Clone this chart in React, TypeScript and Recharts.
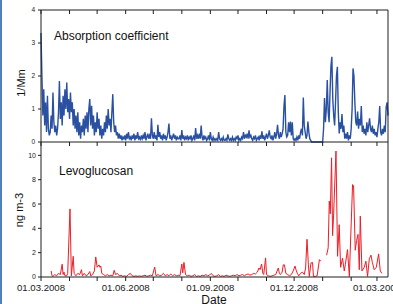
import React from "react";
import { LineChart, Line, XAxis, YAxis } from "recharts";

// Absorption coefficient (1/Mm), one value per day starting 01.03.2008 (day 0)
const absorption: number[] = [
  3.3, 2.0, 0.8, 1.6, 0.5, 1.2, 0.3, 1.4, 0.4, 0.2,
  0.3, 0.8, 0.4, 1.5, 0.6, 0.3, 0.5, 0.2, 0.4, 0.9,
  1.85, 0.7, 1.2, 0.5, 1.4, 0.8, 1.6, 1.0, 1.8, 0.9,
  1.3, 0.7, 1.5, 0.9, 1.2, 0.5, 1.0, 0.4, 0.8, 0.3,
  0.9, 0.2, 0.6, 0.1, 0.5, 0.3, 0.7, 0.2, 0.8, 0.4,
  0.9, 0.3, 1.0, 1.3, 0.5, 1.1, 0.4, 0.8, 0.2, 0.6,
  0.3, 0.9, 0.4, 0.7, 0.2, 0.5, 0.1, 0.4, 0.2, 0.6,
  0.3, 0.8, 0.4, 1.0, 0.5, 0.7, 0.3, 0.9, 1.45, 0.6,
  0.3, 0.5, 0.2, 0.3, 0.1, 0.25, 0.1, 0.2, 0.05, 0.15,
  0.1, 0.2, 0.05, 0.25, 0.1, 0.3, 0.1, 0.15, 0.05, 0.2,
  0.1, 0.25, 0.05, 0.2, 0.1, 0.3, 0.1, 0.15, 0.05, 0.2,
  0.1, 0.2, 0.1, 0.3, 0.05, 0.15, 0.25, 0.1, 0.2, 0.1,
  0.72, 0.2, 0.1, 0.3, 0.1, 0.2, 0.05, 0.52, 0.15, 0.3,
  0.1, 0.2, 0.05, 0.25, 0.1, 0.2, 0.05, 0.15, 0.3, 0.56,
  0.1, 0.2, 0.05, 0.15, 0.25, 0.1, 0.2, 0.05, 0.15, 0.1,
  0.1, 0.2, 0.05, 0.36, 0.1, 0.2, 0.05, 0.15, 0.1, 0.2,
  0.05, 0.15, 0.1, 0.2, 0.05, 0.1, 0.2, 0.05, 0.42, 0.1,
  0.2, 0.1, 0.25, 0.1, 0.5, 0.15, 0.05, 0.2, 0.1, 0.15,
  0.05, 0.1, 0.2, 0.05, 0.3, 0.1, 0.05, 0.15, 0.05, 0.1,
  0.05, 0.1, 0.05, 0.3, 0.1, 0.05, 0.1, 0.05, 0.15, 0.05,
  0.05, 0.1, 0.05, 0.23, 0.1, 0.05, 0.1, 0.05, 0.15, 0.05,
  0.1, 0.05, 0.15, 0.1, 0.2, 0.05, 0.1, 0.05, 0.15, 0.1,
  0.3, 0.1, 0.2, 0.15, 0.25, 0.1, 0.35, 0.15, 0.2, 0.1,
  0.05, 0.15, 0.1, 0.2, 0.05, 0.1, 0.15, 0.05, 0.2, 0.1,
  0.32, 0.1, 0.2, 0.05, 0.15, 0.25, 0.1, 0.2, 0.35, 0.15,
  0.1, 0.2, 0.05, 0.15, 0.3, 0.1, 0.25, 0.52, 0.2, 0.1,
  0.3, 0.15, 0.25, 0.4, 1.1, 1.42, 0.3, 0.15, 0.2, 0.6,
  0.3, 0.62, 0.2, 0.6, 0.1, 0.05, 0.1, 0.05, 0.15, 0.05,
  0.2, 0.1, 0.3, 0.4, 0.2, 1.35, 0.5, 0.3, 0.1, 0.2,
  0.62, 0.3, 0.1, 0.05, 0, 0, 0, 0, 0, 0,
  0, 0, 0, 0, 0, 0, 0, 0.4, 1.33, 0.6,
  1.0, 1.88, 0.9, 0.6, 1.5, 2.3, 2.58, 1.3, 0.8, 0.5,
  1.2, 2.0, 2.28, 0.9, 0.26, 0.6, 0.4, 0.85, 0.3, 0.5,
  0.1, 0.25, 0.1, 0.3, 0.05, 0.2, 0.1, 0.4, 1.0, 2.23,
  2.0, 1.2, 0.6, 0.5, 0.92, 0.4, 0.7, 0.5, 1.09, 0.3,
  0.5, 0.25, 0.4, 0.2, 0.6, 0.3, 0.5, 0.72, 0.4, 0.3,
  0.5, 0.25, 0.4, 0.2, 0.3, 0.15, 0.4, 0.6, 1.09, 0.3,
  0.2, 0.4, 0.25, 0.5, 0.3, 1.06, 1.2, 0.8,
];

// Levoglucosan (ng m-3): sample day (days since 01.03.2008) and value
const levoDays: number[] = [
  11, 12, 13, 15, 17, 19, 21, 23, 24, 25,
  26, 28, 29, 31.5, 33, 35, 36, 38, 40, 42,
  44, 45, 47, 49, 51, 53, 54, 56, 58, 59.5,
  61, 63, 64, 65, 66, 68, 70, 72, 74, 76,
  78, 79.5, 81, 83, 85, 87, 89, 91, 93, 95,
  97, 99, 101, 103, 105, 107, 109, 111, 113, 115,
  117, 119, 121, 123.5, 125, 127, 129, 131, 133, 135,
  137, 139, 141, 143, 145, 147, 149, 151, 153, 154,
  155.3, 157, 159, 161, 163, 165, 167, 169, 171, 173,
  175, 177, 179, 181, 183, 185, 187, 189, 191, 193,
  195, 197, 199, 201, 203, 205, 207, 209, 211, 213,
  215, 217, 219, 221, 223, 225, 227, 229, 231, 233,
  235, 236.8, 238, 239.7, 241, 242, 244, 245, 247, 249,
  251, 253, 255, 257.8, 259, 260, 262, 263.2, 264.5, 266,
  268, 270, 272, 274, 276, 277, 278.5, 280, 282, 284,
  286, 287.5, 289, 290.5, 291.5, 293.3, 295, 296, 298, 300,
  302.5, 304, 307, 310.3, 312, 313.2, 314.3, 315.7, 316.8, 317.9,
  320.5, 322.2, 324, 325.5, 327.6, 329.5, 330.6, 333, 335, 338.5,
  339.6, 341.4, 342.9, 344.4, 345.8, 346.9, 348.7, 351.2, 353, 354.8,
  356.7, 358.5, 360, 362, 364.3, 366.8, 368.6, 370.4,
];
const levoValues: (number | null)[] = [
  0.5, 0.1, 0.05, 0.2, 0.1, 0.3, 0.2, 1.05, 0.2, 0.4,
  0.1, 0.1, 0.3, 5.6, 0.1, 1.7, 0.3, 0.1, 0.3, 0.2,
  0.6, 0.1, 0.3, 0.1, 0.2, 0.45, 0.1, 0.2, 0.5, 1.65,
  0.8, 1.0, 0.8, 0.9, 0.3, 0.2, 0.1, 0.2, 0.1, 0.15,
  0.1, 0.55, 0.2, 0.3, 0.1, 0.15, 0.05, 0.1, 0.05, 0.2,
  0.3, 0.1, 0.05, 0.1, 0.05, 0.1, 0.05, 0.1, 0.15, 0.05,
  0.1, 0.15, 0.1, 0.82, 0.1, 0.2, 0.1, 0.15, 0.3, 0.1,
  0.2, 0.1, 0.25, 0.1, 0.2, 0.1, 0.15, 0.1, 1.07, 0.35,
  1.2, 0.2, 0.1, 0.15, 0.05, 0.1, 0.2, 0.05, 0.1, 0.05,
  0.15, 0.1, 0.2, 0.1, 0.15, 0.3, 0.1, 0.05, 0.1, 0.2,
  0.05, 0.1, 0.05, 0.15, 0.1, 0.05, 0.1, 0.15, 0.1, 0.2,
  0.1, 0.15, 0.2, 0.1, 0.2, 0.25, 0.15, 0.2, 0.3, 0.25,
  0.4, 0.74, 0.6, 1.07, 0.3, 0.2, 1.57, 0.2, 0.1, 0.05,
  0.1, 0.15, 0.2, 0.74, 0.3, 0.2, 0.4, 1.0, 1.0, 0.3,
  0.2, 0.1, 0.2, 0.5, 0.9, 0.6, 0.3, 0.1, 0.3, 0.4,
  0.2, 0.74, 3.1, 1.0, 0.05, 1.15, 1.2, 0.05, 0.05, 0.1,
  1.43, 1.3, null, 1.79, 2.4, 6.24, 5.2, 9.8, 3.4, 5.1,
  10.36, 1.7, 4.3, 0.8, 1.55, 0.5, 1.0, 2.25, 0.05, 7.6,
  7.5, 2.2, 3.0, 3.5, 0.6, 5.0, 0.5, 0.8, 1.3, 0.05,
  1.5, 1.8, 1.2, 0.6, 0.8, 1.9, 0.5, 0.3,
];

// Axis ticks
const monthTicks = [0, 31, 61, 92, 122, 153, 184, 214, 245, 275, 306, 337, 365];
const dateTickDays = [0, 92, 184, 275, 365];
const dateTickLabels = ["01.03.2008", "01.06.2008", "01.09.2008", "01.12.2008", "01.03.2009"];
const absTicks = [0, 1, 2, 3, 4];
const absMinorTicks = [0, 0.5, 1, 1.5, 2, 2.5, 3, 3.5, 4];
const levoTicks = [0, 2, 4, 6, 8, 10];

const absData = absorption.map((v, i) => ({ day: i, value: v }));
const levoData = levoDays.map((d, i) => ({ day: d, value: levoValues[i] }));

const AXIS = "#1e1e1e";
const FONT = "'Liberation Sans', Arial, Helvetica, sans-serif";

const EmptyTick = () => <g />;

const DateTick = (props: any) => {
  const { x, y, payload } = props;
  const idx = dateTickDays.indexOf(payload.value);
  if (idx < 0) return <g />;
  return (
    <text x={x} y={y} dy="0.71em" textAnchor="middle" fontSize={9.6} fill="#1a1a1a" fontFamily={FONT}>
      {dateTickLabels[idx]}
    </text>
  );
};

export default function App() {
  return (
    <div
      style={{
        position: "absolute",
        left: 0,
        top: 0,
        width: 393,
        height: 304,
        background: "#ffffff",
        overflow: "hidden",
        fontFamily: FONT,
      }}
    >
      <div style={{ position: "absolute", left: 0, top: 0, width: 2, height: 304, background: "#4f81bd" }} />

      <div style={{ position: "absolute", left: 0, top: 138 }}>
        <LineChart width={393} height={166} data={levoData} margin={{ top: 4, right: 5, bottom: 0, left: 11 }}>
          <XAxis
            xAxisId="b"
            dataKey="day"
            type="number"
            domain={[0, 377]}
            ticks={monthTicks}
            interval={0}
            height={27}
            tickSize={4}
            tickMargin={3}
            stroke={AXIS}
            tick={DateTick}
          />
          <YAxis
            yAxisId="l"
            type="number"
            domain={[0, 11.1]}
            ticks={levoTicks}
            interval={0}
            width={30}
            tickSize={3}
            tickMargin={2}
            stroke={AXIS}
            tick={{ fontSize: 7, fill: "#1a1a1a" }}
          />
          <YAxis
            yAxisId="r"
            orientation="right"
            mirror
            type="number"
            domain={[0, 11.1]}
            ticks={levoTicks}
            interval={0}
            width={10}
            tickSize={3}
            stroke={AXIS}
            tick={EmptyTick}
          />
          <Line
            xAxisId="b"
            yAxisId="l"
            type="linear"
            dataKey="value"
            stroke="#ee1c25"
            strokeWidth={1}
            dot={false}
            connectNulls={false}
            isAnimationActive={false}
          />
        </LineChart>
      </div>

      <div style={{ position: "absolute", left: 0, top: 0 }}>
        <LineChart width={393} height={150} data={absData} margin={{ top: 10, right: 5, bottom: 0, left: 11 }}>
          <XAxis
            xAxisId="b"
            dataKey="day"
            type="number"
            domain={[0, 377]}
            ticks={monthTicks}
            interval={0}
            height={8}
            tickSize={4}
            stroke={AXIS}
            tick={EmptyTick}
          />
          <XAxis
            xAxisId="t"
            orientation="top"
            mirror
            dataKey="day"
            type="number"
            domain={[0, 377]}
            ticks={monthTicks}
            interval={0}
            height={8}
            tickSize={4}
            stroke={AXIS}
            tick={EmptyTick}
          />
          <YAxis
            yAxisId="l"
            type="number"
            domain={[0, 4]}
            ticks={absTicks}
            interval={0}
            width={30}
            tickSize={3}
            tickMargin={3}
            stroke={AXIS}
            tick={{ fontSize: 6.5, fill: "#1a1a1a" }}
          />
          <YAxis
            yAxisId="r"
            orientation="right"
            mirror
            type="number"
            domain={[0, 4]}
            ticks={absMinorTicks}
            interval={0}
            width={10}
            tickSize={3}
            stroke={AXIS}
            tick={EmptyTick}
          />
          <Line
            xAxisId="b"
            yAxisId="l"
            type="linear"
            dataKey="value"
            stroke="#2a50a2"
            strokeWidth={1.4}
            dot={false}
            isAnimationActive={false}
          />
        </LineChart>
      </div>

      <svg
        width={393}
        height={304}
        style={{ position: "absolute", left: 0, top: 0, pointerEvents: "none" }}
        fontFamily={FONT}
      >
        <text x={54} y={39.5} fontSize={12} fill="#111">Absorption coefficient</text>
        <text x={59} y={175} fontSize={12} fill="#111">Levoglucosan</text>
        <text transform="translate(25,83) rotate(-90)" textAnchor="middle" fontSize={11} fill="#111">1/Mm</text>
        <text transform="translate(22.5,210) rotate(-90)" textAnchor="middle" fontSize={11} fill="#111">ng m-3</text>
        <text x={214} y={304} textAnchor="middle" fontSize={12} fill="#111">Date</text>
      </svg>
    </div>
  );
}
